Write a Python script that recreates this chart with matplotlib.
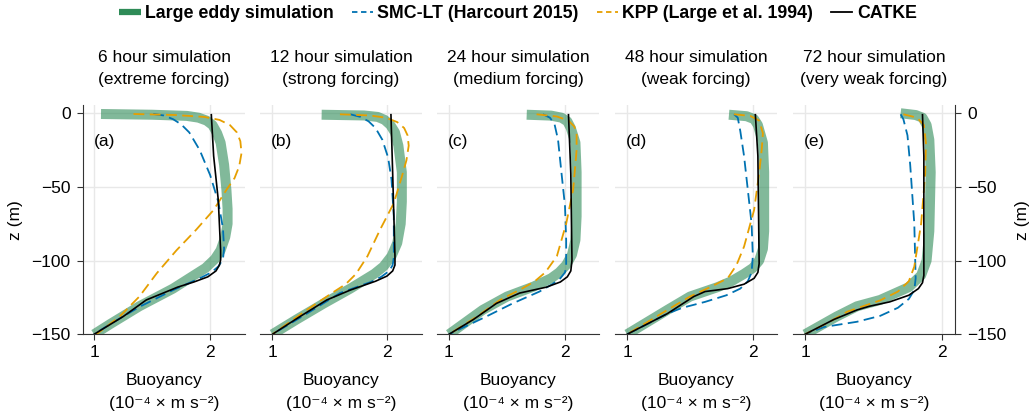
import matplotlib
matplotlib.use("Agg")
import matplotlib.pyplot as plt
from matplotlib.lines import Line2D

plt.rcParams['font.family'] = ['Liberation Sans', 'DejaVu Sans']
plt.rcParams['font.size'] = 12.5

titles = ["6 hour simulation\n(extreme forcing)",
          "12 hour simulation\n(strong forcing)",
          "24 hour simulation\n(medium forcing)",
          "48 hour simulation\n(weak forcing)",
          "72 hour simulation\n(very weak forcing)"]
panel_tags = ["(a)", "(b)", "(c)", "(d)", "(e)"]
x_limits = [(0.905, 2.30), (0.892, 2.306), (0.897, 2.293), (0.904, 2.192), (0.912, 2.098)]

# Large eddy simulation profiles (buoyancy, depth) for each run
les_b = [
    [1.06, 1.5, 1.80, 1.90, 1.97, 2.02, 2.06, 2.09, 2.12, 2.14, 2.15, 2.15, 2.13, 2.09, 2.04, 1.96, 1.86, 1.68, 1.39, 1.14, 1.0],
    [1.43, 1.80, 1.92, 1.98, 2.03, 2.07, 2.10, 2.13, 2.13, 2.12, 2.09, 2.04, 1.97, 1.89, 1.68, 1.45, 1.21, 1.0],
    [1.67, 1.88, 1.97, 2.02, 2.05, 2.09, 2.10, 2.10, 2.09, 2.06, 2.01, 1.95, 1.88, 1.73, 1.50, 1.29, 1.0],
    [1.81, 1.95, 2.01, 2.04, 2.08, 2.09, 2.09, 2.08, 2.05, 2.00, 1.93, 1.83, 1.72, 1.50, 1.32, 1.0],
    [1.70, 1.81, 1.86, 1.89, 1.91, 1.92, 1.91, 1.89, 1.85, 1.76, 1.55, 1.38, 1.23, 1.0],
]
les_z = [
    [-0.5, -1.0, -1.8, -3.0, -5.0, -8.0, -13.6, -20, -35, -52, -65, -75, -84, -93, -99, -105, -110, -119, -131, -143, -150],
    [-1.0, -1.5, -2.5, -4.5, -8, -13, -22, -40, -60, -75, -88, -97, -104, -109, -119, -129, -140, -150],
    [-1.0, -1.6, -3.0, -5.5, -10, -20, -40, -70, -86, -96, -103, -108, -112, -117.6, -124.4, -133.5, -150],
    [-1.0, -2.0, -4.0, -8, -20, -40, -80, -92, -100, -105, -109, -114, -118, -124.4, -133.5, -150],
    [0.0, -1.2, -3.0, -8, -18, -40, -80, -100, -110, -118, -126.7, -131, -138, -150],
]

# SMC-LT (Harcourt 2015)
smc_b = [
    [1.51, 1.60, 1.68, 1.75, 1.82, 1.91, 2.0, 2.07, 2.11, 2.12, 2.11, 2.07, 2.01, 1.91, 1.68, 1.40, 1.14, 1.0],
    [1.68, 1.77, 1.84, 1.90, 1.96, 2.01, 2.04, 2.06, 2.06, 2.05, 2.02, 1.95, 1.86, 1.59, 1.30, 1.0],
    [1.81, 1.87, 1.91, 1.94, 1.97, 2.0, 2.01, 2.01, 2.0, 1.96, 1.89, 1.78, 1.55, 1.32, 1.0],
    [1.85, 1.88, 1.90, 1.93, 1.96, 1.99, 2.0, 1.99, 1.96, 1.90, 1.79, 1.62, 1.44, 1.32, 1.0],
    [1.70, 1.72, 1.75, 1.77, 1.80, 1.81, 1.80, 1.76, 1.68, 1.55, 1.38, 1.23, 1.14, 1.0],
]
smc_z = [
    [-0.5, -1.5, -4.0, -7.5, -13, -25, -42, -60, -78, -92, -99, -104, -108, -112, -120, -131, -143, -150],
    [-0.7, -2.5, -5.5, -10, -18, -30, -45, -70, -98, -103, -107, -111, -114.5, -122, -136, -150],
    [-0.7, -3.0, -7.5, -18, -40.7, -63, -86, -104, -108, -112, -116, -121, -129, -138, -150],
    [-0.7, -3.0, -12, -29, -52, -75, -97, -108, -114, -119, -123.5, -128, -132, -136, -150],
    [-0.7, -4.0, -15, -35, -75, -112, -120, -126, -132, -137.5, -141.5, -143.7, -145, -150],
]

# KPP (Large et al. 1994)
kpp_b = [
    [1.34, 1.70, 1.95, 2.08, 2.17, 2.23, 2.26, 2.27, 2.25, 2.21, 2.14, 2.03, 1.88, 1.71, 1.54, 1.39, 1.22, 1.02],
    [1.59, 1.85, 1.99, 2.09, 2.15, 2.18, 2.19, 2.17, 2.13, 2.06, 1.94, 1.83, 1.73, 1.64, 1.52, 1.30, 1.0],
    [1.755, 1.93, 2.03, 2.08, 2.10, 2.10, 2.07, 2.01, 1.93, 1.83, 1.74, 1.63, 1.44, 1.24, 1.0],
    [1.85, 1.98, 2.05, 2.08, 2.07, 2.05, 2.01, 1.93, 1.87, 1.80, 1.66, 1.50, 1.32, 1.0],
    [1.72, 1.82, 1.87, 1.885, 1.88, 1.85, 1.80, 1.76, 1.68, 1.55, 1.31, 1.16, 1.0],
]
kpp_z = [
    [-0.5, -1.2, -2.5, -4.5, -8, -13, -19, -27, -36, -44, -52, -65.6, -79, -93, -108.6, -124.4, -138, -150],
    [-0.7, -1.5, -3.0, -6, -10, -15, -22, -32, -43, -61, -79, -97, -109, -116, -122, -133.5, -150],
    [-0.7, -2.2, -5.0, -9, -14, -25, -52, -75, -97, -108, -114, -119, -126.7, -138, -150],
    [-0.7, -1.8, -5.0, -13.6, -25, -40.7, -65.6, -90.5, -103, -112, -118, -124.4, -133.5, -150],
    [-0.7, -3.0, -8, -20, -40.7, -75, -104, -114, -121, -127, -134.6, -142.5, -150],
]

# CATKE
catke_b = [
    [2.01, 2.03, 2.07, 2.09, 2.09, 2.08, 2.05, 1.98, 1.86, 1.72, 1.45, 1.25, 1.0],
    [2.035, 2.05, 2.07, 2.07, 2.05, 2.00, 1.90, 1.68, 1.475, 1.24, 1.0],
    [2.03, 2.05, 2.06, 2.05, 2.02, 1.96, 1.84, 1.61, 1.41, 1.21, 1.0],
    [2.02, 2.04, 2.05, 2.04, 2.01, 1.93, 1.80, 1.62, 1.53, 1.32, 1.0],
    [1.86, 1.87, 1.87, 1.86, 1.83, 1.76, 1.62, 1.47, 1.38, 1.21, 1.0],
]
catke_z = [
    [-1, -29, -59, -93, -99.5, -103, -107, -111, -114.5, -118, -126.7, -138, -150],
    [-1, -40.7, -97, -103, -107, -110.5, -114, -120, -126.7, -138, -150],
    [-1, -40.7, -100, -107, -111, -114.5, -118, -122, -129, -140, -150],
    [-1, -29, -102, -108, -112, -116, -119, -121, -124.4, -136, -150],
    [-1, -29, -110, -115, -119, -123.5, -128, -131, -133.5, -140, -150],
]

les_color = 'seagreen'
smc_color = '#0072B2'
kpp_color = '#E69F00'
spine_color = '#333333'

W, H = 1036, 418
fig = plt.figure(figsize=(W / 100, H / 100), dpi=100)

lefts = [83, 260, 437, 615, 793]
width = 162
top, bottom = 105, 334.3

for i in range(5):
    ax = fig.add_axes([lefts[i] / W, 1 - bottom / H, width / W, (bottom - top) / H])
    ax.plot(les_b[i], les_z[i], color=les_color, alpha=0.6, lw=7.2,
            solid_capstyle='butt', solid_joinstyle='round', zorder=2)
    ax.plot(smc_b[i], smc_z[i], color=smc_color, lw=1.3, ls=(0, (6, 3)), zorder=3)
    ax.plot(kpp_b[i], kpp_z[i], color=kpp_color, lw=1.3, ls=(0, (6, 3)), zorder=3)
    ax.plot(catke_b[i], catke_z[i], color='black', lw=1.2, zorder=4)

    ax.set_xlim(*x_limits[i])
    ax.set_ylim(-150, 5.6)
    ax.set_xticks([1, 2])
    ax.set_yticks([0, -50, -100, -150])
    ax.grid(True, color='#e8e8e8', lw=1)
    ax.set_axisbelow(True)

    for s in ['top', 'left', 'right']:
        ax.spines[s].set_visible(False)
    ax.spines['bottom'].set_color(spine_color)
    ax.tick_params(axis='x', direction='out', length=4, color=spine_color, pad=4)

    if i == 0:
        ax.spines['left'].set_visible(True)
        ax.spines['left'].set_color(spine_color)
        ax.tick_params(axis='y', direction='out', length=4, color=spine_color, pad=5)
        ax.set_yticklabels(['0', '\u221250', '\u2212100', '\u2212150'])
        ax.set_ylabel("z (m)", labelpad=6)
    elif i == 4:
        ax.spines['right'].set_visible(True)
        ax.spines['right'].set_color(spine_color)
        ax.yaxis.tick_right()
        ax.yaxis.set_label_position('right')
        ax.tick_params(axis='y', direction='out', length=4, color=spine_color, pad=5,
                       left=False, right=True)
        ax.set_yticklabels(['0', '\u221250', '\u2212100', '\u2212150'])
        ax.set_ylabel("z (m)", labelpad=6)
    else:
        ax.tick_params(axis='y', left=False, labelleft=False)

    ax.set_title(titles[i], fontsize=12.5, pad=15, linespacing=1.6)
    ax.set_xlabel("Buoyancy\n(10\u207b\u2074 \u00d7 m s\u207b\u00b2)", linespacing=1.65, labelpad=9)
    ax.text(0.068, 0.84, panel_tags[i], transform=ax.transAxes, ha='left', va='center')

handles = [
    Line2D([], [], color=les_color, lw=4.5, solid_capstyle='butt'),
    Line2D([], [], color=smc_color, lw=1.3, ls=(0, (3, 2))),
    Line2D([], [], color=kpp_color, lw=1.3, ls=(0, (3, 2))),
    Line2D([], [], color='black', lw=1.3),
]
labels = ["Large eddy simulation", "SMC-LT (Harcourt 2015)",
          "KPP (Large et al. 1994)", "CATKE"]
fig.legend(handles, labels, loc='center', bbox_to_anchor=(518 / W, 1 - 14 / H), ncol=4,
           frameon=False, prop={'weight': 'bold', 'size': 12.8},
           handlelength=1.2, handletextpad=0.25, columnspacing=1.0)

fig.savefig("out.png", dpi=100)
